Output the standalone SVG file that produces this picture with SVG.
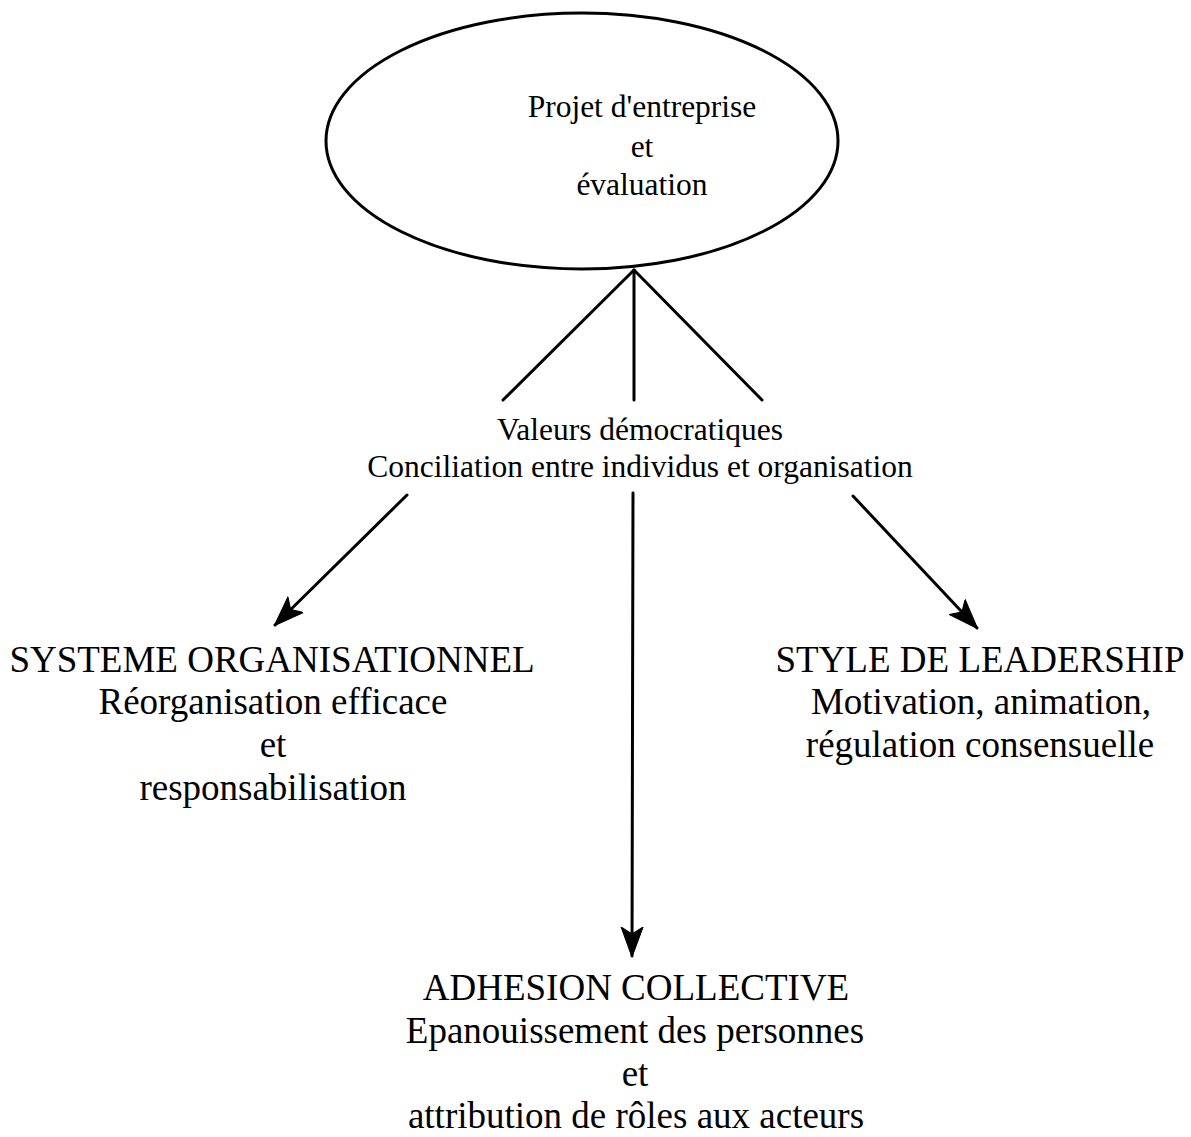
<svg xmlns="http://www.w3.org/2000/svg" width="1191" height="1137" viewBox="0 0 1191 1137">
  <style>
    .t { font-family: "Liberation Serif", "Times New Roman", serif; fill: #000; text-anchor: middle; }
    .s { font-size: 31.5px; }
    .l { font-size: 37px; }
    .ln { stroke: #000; stroke-width: 3; fill: none; stroke-linecap: round; }
  </style>
  <defs>
    <marker id="arrow" markerUnits="userSpaceOnUse" viewBox="0 0 30 24" markerWidth="30" markerHeight="24" refX="29" refY="12" orient="auto">
      <path d="M0,1 L30,12 L0,23 L7,12 Z" fill="#000" stroke="#000" stroke-width="1"/>
    </marker>
  </defs>
  <rect width="1191" height="1137" fill="#fff"/>

  <g id="projet">
    <ellipse cx="582" cy="141" rx="256" ry="128" fill="none" stroke="#000" stroke-width="3"/>
    <text class="t s" x="642" y="117">Projet d'entreprise</text>
    <text class="t s" x="642" y="157">et</text>
    <text class="t s" x="642" y="195">évaluation</text>
  </g>

  <g id="valeurs">
    <text class="t s" x="640" y="440">Valeurs démocratiques</text>
    <text class="t s" x="640" y="477">Conciliation entre individus et organisation</text>
  </g>

  <g id="systeme">
    <text class="t l" x="272" y="672">SYSTEME ORGANISATIONNEL</text>
    <text class="t l" x="273" y="714">Réorganisation efficace</text>
    <text class="t l" x="273" y="757">et</text>
    <text class="t l" x="273" y="800">responsabilisation</text>
  </g>

  <g id="leadership">
    <text class="t l" x="980" y="672">STYLE DE LEADERSHIP</text>
    <text class="t l" x="981" y="714">Motivation, animation,</text>
    <text class="t l" x="980" y="757">régulation consensuelle</text>
  </g>

  <g id="adhesion">
    <text class="t l" x="636" y="1000">ADHESION COLLECTIVE</text>
    <text class="t l" x="635" y="1043">Epanouissement des personnes</text>
    <text class="t l" x="635" y="1086">et</text>
    <text class="t l" x="636" y="1128">attribution de rôles aux acteurs</text>
  </g>

  <g id="connectors">
    <line class="ln" x1="634" y1="270" x2="503" y2="400"/>
    <line class="ln" x1="634" y1="270" x2="634" y2="400"/>
    <line class="ln" x1="634" y1="270" x2="762" y2="400"/>
    <line class="ln" x1="407" y1="495" x2="275" y2="625" marker-end="url(#arrow)"/>
    <line class="ln" x1="633" y1="493" x2="632" y2="956" marker-end="url(#arrow)"/>
    <line class="ln" x1="853" y1="496" x2="977" y2="628" marker-end="url(#arrow)"/>
  </g>
</svg>
